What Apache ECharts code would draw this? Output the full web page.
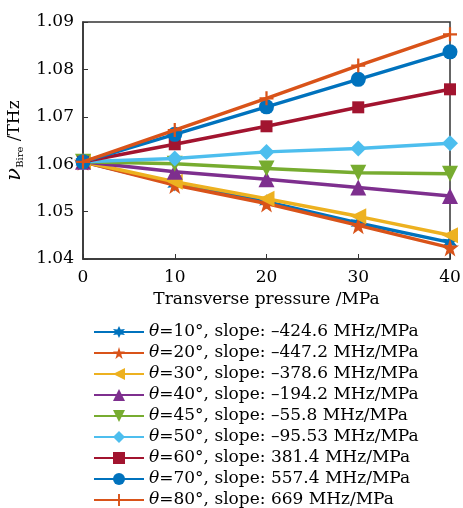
<!DOCTYPE html>
<html><head><meta charset="utf-8">
<script src="https://cdn.jsdelivr.net/npm/echarts@6/dist/echarts.min.js"></script>
<style>html,body{margin:0;padding:0;background:#fff}#c{width:463px;height:508px}</style>
</head><body><div id="c"></div>
<script>
const pressure = [0, 10, 20, 30, 40];
const angles = ['10', '20', '30', '40', '45', '50', '60', '70', '80'];
const slopes = ['–424.6', '–447.2', '–378.6', '–194.2', '–55.8', '–95.53', '381.4', '557.4', '669'];
const theta10 = [1.0605, 1.0558, 1.0521, 1.0476, 1.0435];
const theta20 = [1.0605, 1.0556, 1.0517, 1.0471, 1.0424];
const theta30 = [1.0605, 1.0563, 1.0527, 1.0490, 1.0450];
const theta40 = [1.0605, 1.0584, 1.0568, 1.0551, 1.0533];
const theta45 = [1.0605, 1.0601, 1.0591, 1.0582, 1.0580];
const theta50 = [1.0605, 1.0612, 1.0626, 1.0633, 1.0644];
const theta60 = [1.0605, 1.0642, 1.0680, 1.0720, 1.0758];
const theta70 = [1.0605, 1.0663, 1.0721, 1.0779, 1.0837];
const theta80 = [1.0605, 1.0672, 1.0739, 1.0808, 1.0874];
const yTicks = [1.04, 1.05, 1.06, 1.07, 1.08, 1.09];

const values = [theta10, theta20, theta30, theta40, theta45, theta50, theta60, theta70, theta80];
const colors = ['#0072BD', '#D95319', '#EDB120', '#7E2F8E', '#77AC30', '#4DBEEE', '#A2142F', '#0072BD', '#D95319'];
const hexagram = 'path://M50,0 L62,29 L93,25 L74,50 L93,75 L62,71 L50,100 L38,71 L7,75 L26,50 L7,25 L38,29 Z';
const star5 = 'path://M50,0 L61,35 L98,35 L68,57 L79,91 L50,70 L21,91 L32,57 L2,35 L39,35 Z';
const plus = 'path://M42,0 H58 V42 H100 V58 H58 V100 H42 V58 H0 V42 H42 Z';
const symbols = [hexagram, star5, 'triangle', 'triangle', 'triangle', 'diamond', 'rect', 'circle', plus];
const rotations = [0, 0, 90, 0, 180, 0, 0, 0, 0];
const sizes = [15, 18, 16, 16, 16, 16, 12, 15, 14];

const font = 'DejaVu Serif';
const series = values.map((v, i) => ({
  name: 'θ=' + angles[i] + '°, slope: ' + slopes[i] + ' MHz/MPa',
  type: 'line',
  data: pressure.map((p, j) => [p, v[j]]),
  symbol: symbols[i],
  symbolRotate: rotations[i],
  symbolSize: sizes[i],
  showAllSymbol: true,
  color: colors[i],
  lineStyle: { width: 3.5, color: colors[i] },
  itemStyle: { color: colors[i], borderWidth: 0 },
  z: 2 + i,
  animation: false
}));

const chart = echarts.init(document.getElementById('c'), null, { renderer: 'canvas' });
chart.setOption({
  animation: false,
  grid: { left: 83, right: 13, top: 22, bottom: 249, outerBoundsMode: 'none', containLabel: false, show: true, borderColor: '#333', borderWidth: 1.5, backgroundColor: 'transparent' },
  xAxis: {
    type: 'value', min: 0, max: 40, interval: 10,
    name: 'Transverse pressure /MPa', nameLocation: 'middle', nameGap: 32,
    nameTextStyle: { fontFamily: font, fontSize: 17, color: '#000' },
    axisLine: { lineStyle: { color: '#333', width: 1.5 } },
    axisTick: { inside: true, length: 5, lineStyle: { color: '#333' } },
    axisLabel: { fontFamily: font, fontSize: 17, color: '#000', margin: 10 },
    splitLine: { show: false }
  },
  yAxis: {
    type: 'value', min: yTicks[0], max: yTicks[yTicks.length - 1], interval: 0.01,
    name: '{v|ν}{s|Bire}{t| /THz}', nameLocation: 'middle', nameGap: 51, nameRotate: 90,
    nameTextStyle: {
      fontFamily: font, fontSize: 17, color: '#000',
      rich: {
        v: { fontFamily: font, fontSize: 21, fontStyle: 'italic', color: '#000' },
        s: { fontFamily: font, fontSize: 10, color: '#000', padding: [12, 0, 0, 0] },
        t: { fontFamily: font, fontSize: 17, color: '#000' }
      }
    },
    axisLine: { lineStyle: { color: '#333', width: 1.5 } },
    axisTick: { inside: true, length: 5, lineStyle: { color: '#333' } },
    axisLabel: { fontFamily: font, fontSize: 17, color: '#000', margin: 9, formatter: v => v.toFixed(2) },
    splitLine: { show: false }
  },
  legend: {
    orient: 'vertical', left: 88, top: 317, height: 200,
    itemWidth: 50, itemHeight: 15, itemGap: 1,
    textStyle: {
      fontFamily: font, fontSize: 17, color: '#000', lineHeight: 20,
      rich: { i: { fontFamily: font, fontSize: 17, fontStyle: 'italic', color: '#000', lineHeight: 20 } }
    },
    formatter: n => n.replace('θ', '{i|θ}'),
    data: series.map(s => s.name)
  },
  series: series
});
</script></body></html>
